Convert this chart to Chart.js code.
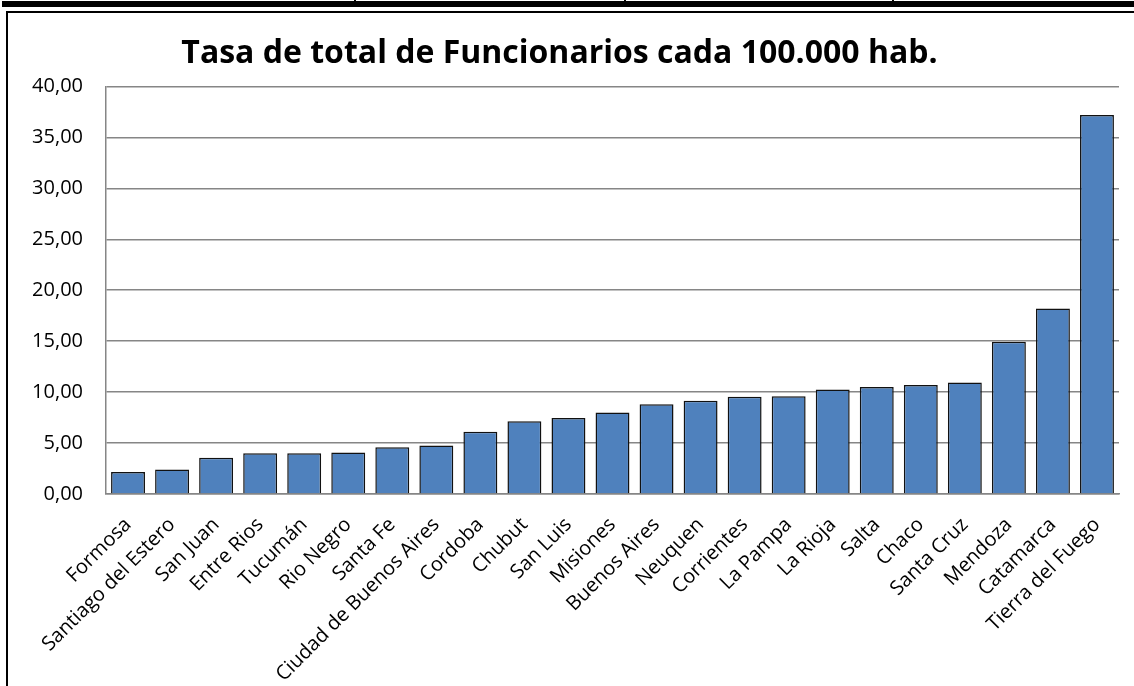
<!DOCTYPE html>
<html>
<head>
<meta charset="utf-8">
<script src="https://cdn.jsdelivr.net/npm/chart.js@4"></script>
<style>
  body { margin: 0; background: #fff; }
  #wrap { position: relative; width: 1134px; height: 686px; overflow: hidden; }
  .band { position: absolute; left: 2px; top: 1px; width: 1140px; height: 6px; background: #000; }
  .div { position: absolute; top: 0; width: 2px; height: 2px; background: #000; }
  .box { position: absolute; left: 6px; top: 11px; width: 1140px; height: 700px;
         border-top: 2px solid #000; border-left: 2px solid #000; }
  canvas { position: absolute; left: 0; top: 0; }
</style>
</head>
<body>
<div id="wrap">
  <div class="band"></div>
  <div class="div" style="left:354px"></div>
  <div class="div" style="left:624px"></div>
  <div class="div" style="left:892px"></div>
  <div class="box"></div>
  <canvas id="barChart" width="1134" height="686"></canvas>
</div>
<script>
// provincias ordenadas de menor a mayor tasa
const provincias = [
  'Formosa', 'Santiago del Estero', 'San Juan', 'Entre Rios', 'Tucumán',
  'Rio Negro', 'Santa Fe', 'Ciudad de Buenos Aires', 'Cordoba', 'Chubut',
  'San Luis', 'Misiones', 'Buenos Aires', 'Neuquen', 'Corrientes',
  'La Pampa', 'La Rioja', 'Salta', 'Chaco', 'Santa Cruz', 'Mendoza',
  'Catamarca', 'Tierra del Fuego'
];

// tasa de funcionarios cada 100.000 habitantes
const tasas = [
  2.15, 2.4, 3.55, 4.0, 4.0,
  4.08, 4.6, 4.77, 6.1, 7.15,
  7.45, 8.0, 8.8, 9.15, 9.55,
  9.6, 10.25, 10.5, 10.7, 10.95, 14.93,
  18.2, 37.2
];

const yTicks = [0, 5, 10, 15, 20, 25, 30, 35, 40];

const fontFam = "'Open Sans', sans-serif";

const ctx = document.getElementById('barChart').getContext('2d');

const barChart = new Chart(ctx, {
  type: 'bar',
  data: {
    labels: provincias,
    datasets: [{
      label: 'Tasa',
      data: tasas,
      backgroundColor: '#4F81BD',
      borderColor: '#111',
      borderWidth: 1.5,
      borderSkipped: 'bottom',
      barPercentage: 0.77,
      categoryPercentage: 1.0
    }]
  },
  options: {
    responsive: false,
    animation: false,
    layout: { padding: { left: 0, right: 15, top: 0, bottom: 0 } },
    plugins: {
      legend: { display: false },
      tooltip: { enabled: false },
      title: {
        display: true,
        text: 'Tasa de total de Funcionarios cada 100.000 hab.',
        color: '#000',
        font: { family: fontFam, size: 32, weight: 'bold' },
        padding: { top: 35, bottom: 13 }
      }
    },
    scales: {
      x: {
        grid: { display: false, drawTicks: false },
        border: { display: true, color: '#868686', width: 1.5 },
        ticks: {
          color: '#000',
          font: { family: fontFam, size: 20 },
          maxRotation: 45,
          minRotation: 45,
          autoSkip: false,
          padding: 19
        },
        afterFit: (scale) => { scale.height = 192; }
      },
      y: {
        min: 0,
        max: 40,
        afterBuildTicks: (scale) => { scale.ticks = yTicks.map(v => ({ value: v })); },
        grid: { color: '#868686', lineWidth: 1.5, drawTicks: false },
        border: { display: true, color: '#868686', width: 1.5 },
        ticks: {
          color: '#000',
          font: { family: fontFam, size: 20 },
          padding: 23,
          callback: (v) => v.toFixed(2).replace('.', ',')
        },
        afterFit: (scale) => { scale.width = 106; }
      }
    }
  }
});
</script>
</body>
</html>
